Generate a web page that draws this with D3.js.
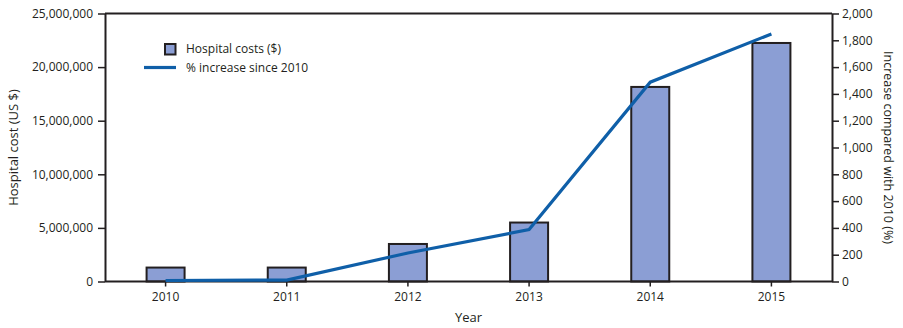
<!DOCTYPE html>
<html><head><meta charset="utf-8">
<script src="https://cdn.jsdelivr.net/npm/d3@7"></script>
<style>
body{margin:0;background:#fff;}
text{font-family:"Open Sans","Liberation Sans",sans-serif;fill:#231f20;}
</style></head>
<body><svg id="c" width="903" height="328"></svg>
<script>
const years = ["2010","2011","2012","2013","2014","2015"];
const hospitalCosts = [1300000, 1300000, 3500000, 5500000, 18150000, 22250000];
const pctIncrease = [0, 3, 205, 380, 1480, 1840];
const leftTicks = [0, 5000000, 10000000, 15000000, 20000000, 25000000];
const rightTicks = [0,200,400,600,800,1000,1200,1400,1600,1800,2000];

const svg = d3.select("#c");
const L = 105, R = 832, T = 13.5, B = 281.5;
const x = d3.scaleBand().domain(years).range([L, R]).padding(0);
const yL = d3.scaleLinear().domain([0, 25000000]).range([B, T]);
const yR = d3.scaleLinear().domain([0, 2000]).range([B, T]);
const fmt = d3.format(",");
const ink = "#231f20";

// top border
svg.append("line").attr("x1", L).attr("x2", R).attr("y1", T).attr("y2", T)
  .attr("stroke", ink).attr("stroke-width", 2);

// bars
const bw = 38;
svg.append("g").selectAll("rect").data(years).join("rect")
  .attr("x", d => x(d) + x.bandwidth()/2 - bw/2)
  .attr("y", (d,i) => yL(hospitalCosts[i]))
  .attr("width", bw)
  .attr("height", (d,i) => B - yL(hospitalCosts[i]))
  .attr("fill", "#8b9ed4").attr("stroke", ink).attr("stroke-width", 2);

// axes
const gl = svg.append("g").attr("transform", `translate(${L},0)`)
  .call(d3.axisLeft(yL).tickValues(leftTicks).tickFormat(fmt).tickSize(7).tickSizeOuter(0).tickPadding(5));
const gr = svg.append("g").attr("transform", `translate(${R},0)`)
  .call(d3.axisRight(yR).tickValues(rightTicks).tickFormat(fmt).tickSize(7).tickSizeOuter(0).tickPadding(3));
const gb = svg.append("g").attr("transform", `translate(0,${B})`)
  .call(d3.axisBottom(x).tickSize(5).tickSizeOuter(0).tickPadding(6));
[gl, gr, gb].forEach(g => {
  g.selectAll("path").attr("stroke", ink).attr("stroke-width", 2);
  g.selectAll("line").attr("stroke", ink).attr("stroke-width", 1.5);
  g.selectAll("text").attr("font-size", 12).attr("fill", ink)
    .attr("font-family", '"Open Sans","Liberation Sans",sans-serif');
});
gb.select(".domain").attr("d", `M${L},0H${R}`);

// line
const line = d3.line().x((d,i) => x(years[i]) + x.bandwidth()/2).y(d => yR(d) - 1);
svg.append("path").datum(pctIncrease).attr("d", line)
  .attr("fill", "none").attr("stroke", "#0f5fa8").attr("stroke-width", 3.2);

// axis titles
svg.append("text").attr("transform", `translate(18,${(T+B)/2}) rotate(-90)`)
  .attr("text-anchor", "middle").attr("font-size", 13).text("Hospital cost (US $)");
svg.append("text").attr("transform", `translate(884,${(T+B)/2}) rotate(90)`)
  .attr("text-anchor", "middle").attr("font-size", 12.5).text("Increase compared with 2010 (%)");
svg.append("text").attr("x", (L+R)/2).attr("y", 322)
  .attr("text-anchor", "middle").attr("font-size", 13).text("Year");

// legend
svg.append("rect").attr("x", 165).attr("y", 44).attr("width", 10.5).attr("height", 10.5)
  .attr("fill", "#8b9ed4").attr("stroke", ink).attr("stroke-width", 2);
svg.append("text").attr("x", 186).attr("y", 53).attr("font-size", 12).text("Hospital costs ($)");
svg.append("line").attr("x1", 144).attr("x2", 176).attr("y1", 67.5).attr("y2", 67.5)
  .attr("stroke", "#0f5fa8").attr("stroke-width", 3.2);
svg.append("text").attr("x", 186).attr("y", 72).attr("font-size", 12).text("% increase since 2010");
</script></body></html>
